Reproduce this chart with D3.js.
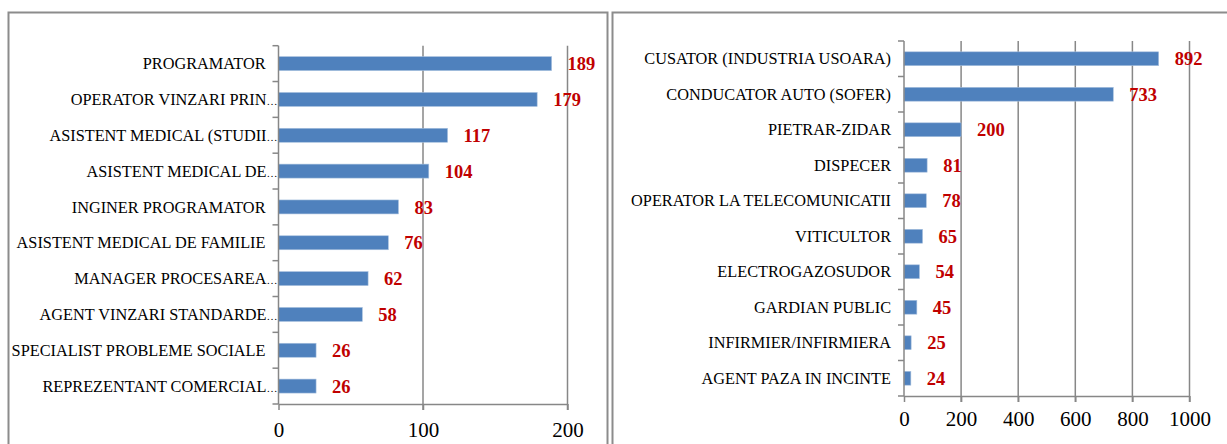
<!DOCTYPE html>
<html>
<head>
<meta charset="utf-8">
<script src="https://cdn.jsdelivr.net/npm/d3@7"></script>
<style>
  body { margin: 0; background: #fff; }
  svg { display: block; font-family: "Liberation Serif", "Times New Roman", serif; }
</style>
</head>
<body>
<script>
// left panel
const leftCategories = [
  "PROGRAMATOR", "OPERATOR VINZARI PRIN…", "ASISTENT MEDICAL (STUDII…",
  "ASISTENT MEDICAL DE…", "INGINER PROGRAMATOR", "ASISTENT MEDICAL DE FAMILIE",
  "MANAGER PROCESAREA…", "AGENT VINZARI STANDARDE…", "SPECIALIST PROBLEME SOCIALE",
  "REPREZENTANT COMERCIAL…"
];
const leftValues = [189, 179, 117, 104, 83, 76, 62, 58, 26, 26];
const leftTicks = [0, 100, 200];

// right panel
const rightCategories = [
  "CUSATOR (INDUSTRIA USOARA)", "CONDUCATOR AUTO (SOFER)", "PIETRAR-ZIDAR",
  "DISPECER", "OPERATOR LA TELECOMUNICATII", "VITICULTOR", "ELECTROGAZOSUDOR",
  "GARDIAN PUBLIC", "INFIRMIER/INFIRMIERA", "AGENT PAZA IN INCINTE"
];
const rightValues = [892, 733, 200, 81, 78, 65, 54, 45, 25, 24];
const rightTicks = [0, 200, 400, 600, 800, 1000];

const W = 1227, H = 444;
const svg = d3.select('body').append('svg').attr('width', W).attr('height', H);

// panel frames
function frame(x, w) {
  svg.append('rect')
    .attr('x', x).attr('y', 12.5)
    .attr('width', w).attr('height', 500)
    .attr('fill', 'none')
    .attr('stroke', '#8c8c8c')
    .attr('stroke-width', 2);
}
frame(8.5, 599);
frame(612.5, 700);

const gridColor = '#878787';

function drawChart(cats, vals, ticks, o) {
  const x = d3.scaleLinear().domain([ticks[0], ticks[ticks.length - 1]]).range([o.x0, o.x1]);
  const y = d3.scaleBand().domain(cats).range([o.top, o.bottom]).paddingInner(0.61).paddingOuter(0.305);
  const g = svg.append('g');

  // vertical gridlines
  g.selectAll('line.grid').data(ticks.slice(1)).enter()
    .append('line')
    .attr('x1', d => x(d)).attr('x2', d => x(d))
    .attr('y1', o.top).attr('y2', o.bottom + 6)
    .attr('stroke', gridColor).attr('stroke-width', 1.5);

  // bars
  g.selectAll('rect.bar').data(vals).enter()
    .append('rect')
    .attr('x', x(0))
    .attr('y', (d, i) => y(cats[i]))
    .attr('width', d => x(d) - x(0))
    .attr('height', y.bandwidth())
    .attr('fill', '#4f81bd')
    .attr('stroke', '#a7c0de').attr('stroke-width', 0.6);

  // value labels
  g.selectAll('text.val').data(vals).enter()
    .append('text')
    .attr('x', d => x(d) + 16)
    .attr('y', (d, i) => y(cats[i]) + y.bandwidth() / 2)
    .attr('dy', '0.36em')
    .attr('font-size', 18.5)
    .attr('font-weight', 'bold')
    .attr('fill', '#c00000')
    .text(d => d);

  // category labels (truncated ones end with a narrow ellipsis)
  const cat = g.selectAll('text.cat').data(cats).enter()
    .append('text')
    .attr('x', d => d.endsWith('…') ? x(0) - 1 : x(0) - 13)
    .attr('y', d => y(d) + y.bandwidth() / 2)
    .attr('dy', '0.35em')
    .attr('text-anchor', 'end')
    .attr('font-size', 16.3)
    .attr('fill', '#000');
  cat.append('tspan').text(d => d.replace('…', ''));
  cat.filter(d => d.endsWith('…')).append('tspan')
    .attr('font-size', 11).text('…');

  // y axis line with ticks at category boundaries
  g.append('line')
    .attr('x1', x(0)).attr('x2', x(0))
    .attr('y1', o.top).attr('y2', o.bottom)
    .attr('stroke', gridColor).attr('stroke-width', 1.5);
  const step = y.step();
  g.selectAll('line.ytick').data(d3.range(cats.length + 1)).enter()
    .append('line')
    .attr('x1', x(0) - 6).attr('x2', x(0))
    .attr('y1', i => o.top + i * step).attr('y2', i => o.top + i * step)
    .attr('stroke', gridColor).attr('stroke-width', 1.5);

  // x axis
  const ax = g.append('g')
    .attr('transform', `translate(0,${o.bottom})`)
    .call(d3.axisBottom(x).tickValues(ticks).tickFormat(d3.format('d'))
      .tickSize(6).tickSizeOuter(0).tickPadding(o.pad));
  ax.select('.domain').attr('stroke', gridColor).attr('stroke-width', 1.5);
  ax.selectAll('.tick line').attr('stroke', gridColor).attr('stroke-width', 1.5);
  ax.selectAll('.tick text')
    .attr('font-family', '"Liberation Serif", "Times New Roman", serif')
    .attr('font-size', 21).attr('fill', '#000');
}

drawChart(leftCategories, leftValues, leftTicks,
  { x0: 278.5, x1: 567.5, top: 45.7, bottom: 404, pad: 12 });
drawChart(rightCategories, rightValues, rightTicks,
  { x0: 904, x1: 1189.5, top: 41, bottom: 396, pad: 9 });
</script>
</body>
</html>
